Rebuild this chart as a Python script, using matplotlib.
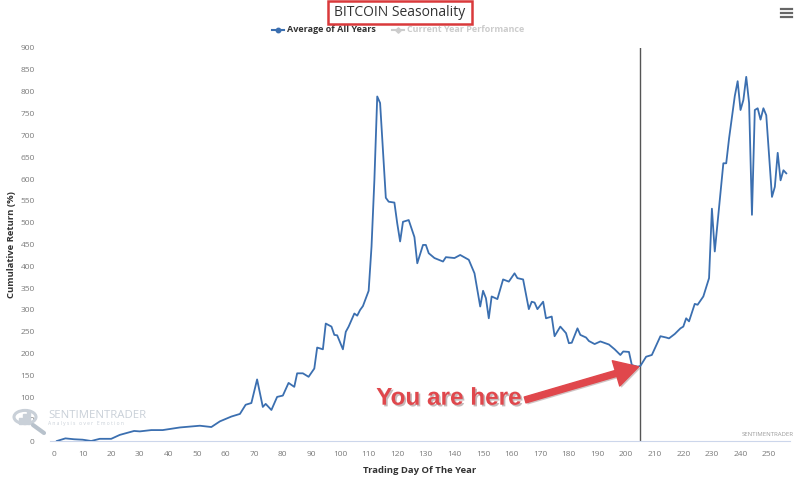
import matplotlib
matplotlib.use("Agg")
import matplotlib.pyplot as plt
from matplotlib.lines import Line2D
from matplotlib.patches import Circle, Rectangle
import matplotlib.patheffects as pe

plt.rcParams['font.family'] = ['Open Sans', 'DejaVu Sans']

# ---- data ----
days = [1, 4, 7, 10, 13, 16, 20, 23, 28, 30, 34, 38, 44, 51, 55, 58, 62, 65, 67, 69,
        71, 73, 74, 76, 78, 80, 82, 84, 85, 87, 89, 91, 92, 94, 95, 97, 98, 99, 101,
        102, 103, 105, 106, 107, 108, 110, 111, 112, 113, 114, 116, 117, 119, 120,
        121, 122, 124, 126, 127, 129, 130, 131, 133, 136, 137, 140, 142, 145, 147,
        149, 150, 151, 152, 153, 154, 155, 157, 159, 161, 162, 164, 166, 167, 168,
        169, 171, 172, 174, 175, 177, 179, 180, 181, 183, 184, 186, 187, 189, 191,
        194, 196, 198, 199, 201, 202, 204, 205, 207, 209, 212, 214, 215, 217, 219,
        220, 221, 222, 224, 225, 227, 229, 230, 231, 234, 235, 236, 238, 239, 240,
        241, 242, 243, 244, 245, 246, 247, 248, 249, 251, 252, 253, 254, 255, 256]
returns = [0, 6, 4, 3, 0, 5, 5, 14, 23, 22, 25, 25, 31, 35, 32, 45, 56, 62, 83, 87,
           141, 78, 85, 71, 101, 104, 133, 124, 155, 155, 147, 166, 214, 210, 269, 262,
           243, 242, 210, 250, 262, 292, 287, 300, 309, 344, 445, 597, 789, 774, 557,
           548, 546, 498, 457, 502, 506, 467, 407, 449, 449, 430, 419, 411, 421, 419,
           426, 415, 384, 308, 344, 327, 281, 331, 328, 325, 370, 365, 384, 373, 370,
           302, 319, 317, 302, 319, 281, 285, 240, 262, 247, 224, 225, 258, 243, 237,
           229, 222, 228, 221, 210, 197, 205, 204, 174, 170, 172, 193, 197, 240, 237,
           235, 245, 258, 262, 281, 274, 314, 312, 331, 373, 532, 434, 636, 636, 693,
           790, 824, 758, 781, 834, 774, 518, 758, 762, 736, 762, 746, 559, 582, 660,
           597, 620, 613]
current_day = 205
x_ticks = list(range(0, 251, 10))
y_ticks = list(range(0, 901, 50))

title = "BITCOIN Seasonality"
series_names = ["Average of All Years", "Current Year Performance"]
x_title = "Trading Day Of The Year"
y_title = "Cumulative Return (%)"

LINE = '#3b6fb0'
GREY_TXT = '#7a7a7a'

W, H = 800, 480
fig = plt.figure(figsize=(8, 4.8), dpi=100)
fig.patch.set_facecolor('white')

def fx(px):
    return px / W

def fy(py):
    return 1 - py / H

ax = fig.add_axes([fx(50), fy(441), fx(790) - fx(50), fy(48) - fy(441)])
ax.set_facecolor('white')

ax.plot(days, returns, color=LINE, lw=1.3, solid_joinstyle='round', zorder=3)
ax.axvline(current_day, color='#555555', lw=1.0, zorder=2)

ax.set_xlim(-1.4, 257.3)
ax.set_ylim(0, 900)
ax.set_xticks(x_ticks)
ax.set_yticks(y_ticks)
ax.tick_params(axis='both', length=0, labelsize=6, labelcolor=GREY_TXT)
ax.tick_params(axis='x', pad=7)
ax.tick_params(axis='y', pad=11)
for s in ['top', 'right', 'left']:
    ax.spines[s].set_visible(False)
ax.spines['bottom'].set_color('#ccd6eb')
ax.spines['bottom'].set_linewidth(0.8)

ax.set_xlabel(x_title, fontsize=6.8, fontweight='bold', color='#333333', labelpad=6)
ax.set_ylabel(y_title, fontsize=6.8, fontweight='bold', color='#333333', labelpad=3)

# ---- title with red box ----
fig.text(0.5, fy(12.5), title, ha='center', va='center', fontsize=10, color='#333333')
fig.patches.append(Rectangle((fx(328), fy(24)), fx(472) - fx(328), fy(0.8) - fy(24),
                             transform=fig.transFigure, fill=False, edgecolor='#d9393b',
                             lw=1.8, zorder=5))

# ---- legend ----
yl = fy(29.5)
fig.add_artist(Line2D([fx(272), fx(284)], [yl, yl], transform=fig.transFigure,
                      color=LINE, lw=1.5))
fig.add_artist(Line2D([fx(278)], [yl], transform=fig.transFigure,
                      color=LINE, marker='o', ms=3.2, lw=0))
fig.text(fx(287), yl, series_names[0], ha='left', va='center', fontsize=6.5,
         fontweight='bold', color='#333333')
fig.add_artist(Line2D([fx(392), fx(404)], [yl, yl], transform=fig.transFigure,
                      color='#cccccc', lw=1.5))
fig.add_artist(Line2D([fx(398)], [yl], transform=fig.transFigure,
                      color='#cccccc', marker='D', ms=2.8, lw=0))
fig.text(fx(407), yl, series_names[1], ha='left', va='center', fontsize=6.5,
         fontweight='bold', color='#cccccc')

# ---- hamburger menu ----
for yy in (9, 13, 17):
    fig.add_artist(Line2D([fx(781), fx(792)], [fy(yy), fy(yy)], transform=fig.transFigure,
                          color='#666666', lw=1.6))

# ---- credits ----
fig.text(fx(794), fy(435), "SENTIMENTRADER", ha='right', va='center', fontsize=4.3,
         color='#999999')

# ---- watermark (bottom-left) ----
WM = '#c9d0d8'
fig.text(fx(48), fy(415), "SENTIMENTRADER", ha='left', va='center', fontsize=8.2,
         color=WM)
fig.text(fx(48), fy(424), "A n a l y s i s   o v e r   E m o t i o n", ha='left',
         va='center', fontsize=3.6, color=WM)
fig.patches.append(Circle((fx(25), fy(417)), 11 / W, transform=fig.transFigure,
                          fill=False, edgecolor=WM, lw=2.2))
for i, hh in enumerate([6, 10, 14]):
    fig.patches.append(Rectangle((fx(19 + i * 4), fy(424)), 2.6 / W, hh / H,
                                 transform=fig.transFigure, color=WM))
fig.add_artist(Line2D([fx(33), fx(44)], [fy(425), fy(433)], transform=fig.transFigure,
                      color='#b8c2cc', lw=3, solid_capstyle='round'))

# ---- annotation: You are here ----
idx = days.index(current_day - 1)
head = (current_day - 0.6, returns[idx])
ax.annotate('', xy=head, xytext=(164.7, 94),
            arrowprops=dict(arrowstyle='simple,head_length=0.85,head_width=0.95,tail_width=0.22',
                            color='#e0474c', shrinkA=0, shrinkB=0, mutation_scale=20,
                            path_effects=[pe.SimplePatchShadow(offset=(1.2, -1.2), alpha=0.25),
                                          pe.Normal()]),
            zorder=6)
ax.text(138.1, 98, "You are here", ha='center', va='center', fontsize=17.5,
        fontweight='bold', color='#e0474c', family=['Liberation Sans', 'DejaVu Sans'],
        zorder=6,
        path_effects=[pe.SimplePatchShadow(offset=(1.2, -1.2), alpha=0.3), pe.Normal()])

fig.savefig('out.png', dpi=100, facecolor='white')
